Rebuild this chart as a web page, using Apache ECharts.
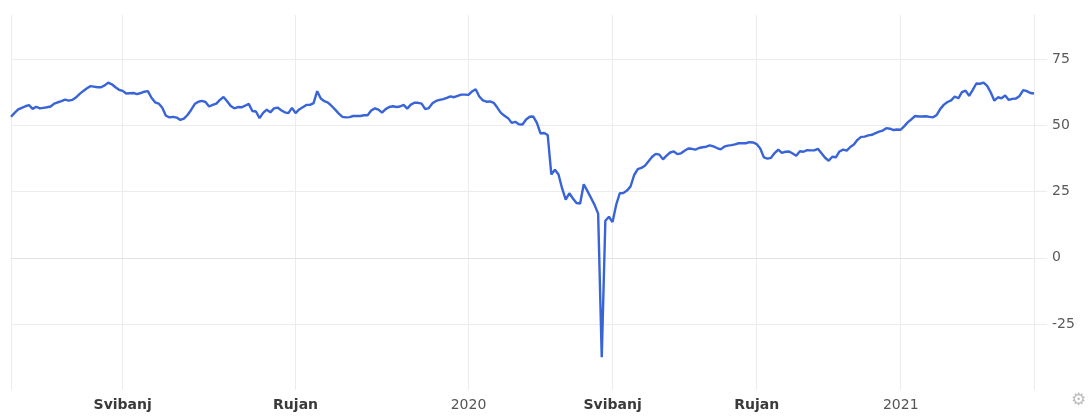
<!DOCTYPE html>
<html><head><meta charset="utf-8">
<script src="https://cdn.jsdelivr.net/npm/echarts@6/dist/echarts.min.js"></script>
<style>html,body{margin:0;padding:0;background:#fff}#c{width:1088px;height:417px}</style>
</head><body><div id="c"></div><script>
// Sampling of the date axis: [month, first day, last day, number of samples]
const sampleMonths = [
 ['2019-02',13,28,7],['2019-03',1,31,12],['2019-04',1,30,12],
 ['2019-05',1,31,12],['2019-06',1,30,12],['2019-07',1,31,12],['2019-08',1,31,12],
 ['2019-09',1,30,12],['2019-10',1,31,12],['2019-11',1,30,12],['2019-12',1,31,12],
 ['2020-01',1,31,10],['2020-02',1,29,10],['2020-03',1,31,10],['2020-04',1,30,10],
 ['2020-05',1,31,10],['2020-06',1,30,10],['2020-07',1,31,10],['2020-08',1,31,10],
 ['2020-09',1,30,10],['2020-10',1,31,10],['2020-11',1,30,10],['2020-12',1,31,10],
 ['2021-01',1,31,10],['2021-02',1,28,10],['2021-03',1,31,10],['2021-04',1,22,8]
];
const categories = [];
sampleMonths.forEach(([m, d0, d1, n]) => {
  for (let k = 0; k < n; k++) {
    const d = d0 + Math.floor(k * (d1 - d0 + 1) / n);
    categories.push(m + '-' + String(d).padStart(2, '0'));
  }
});

// Crude oil price
const prices = [
 53.3,54.8,56.1,56.7,57.3,57.7,56.3,57.1,56.5,56.7,
 56.9,57.2,58.3,58.8,59.2,59.8,59.4,59.7,60.6,61.9,
 63.0,64.0,64.9,64.7,64.5,64.5,65.2,66.2,65.6,64.5,
 63.5,63.1,62.1,62.2,62.3,61.9,62.3,62.8,63.0,60.5,
 58.8,58.3,56.7,53.7,53.1,53.3,53.0,52.1,52.6,54.0,
 55.9,58.1,59.0,59.3,58.9,57.2,57.8,58.3,59.7,60.8,
 59.2,57.4,56.5,57.0,56.9,57.5,58.2,55.5,55.3,52.8,
 54.8,56.0,55.0,56.5,56.8,55.8,55.0,54.7,56.7,54.7,
 56.1,56.9,57.8,57.8,58.5,63.0,60.2,59.2,58.7,57.4,
 56.0,54.5,53.3,53.1,53.2,53.6,53.6,53.6,53.9,53.9,
 55.7,56.5,56.0,54.9,56.2,57.0,57.3,57.0,57.2,57.8,
 56.4,57.9,58.6,58.6,58.3,56.2,56.6,58.4,59.3,59.7,
 60.0,60.5,61.0,60.7,61.2,61.7,61.7,61.6,62.9,63.7,
 61.0,59.5,59.0,59.1,58.6,56.8,54.8,53.7,52.8,51.0,
 51.4,50.5,50.4,52.3,53.3,53.4,51.0,47.0,47.2,46.4,
 31.5,33.3,31.5,26.2,22.0,24.4,22.4,20.7,20.5,27.8,
 25.3,22.7,20.0,16.7,-37.6,14.0,15.5,13.5,20.0,24.4,
 24.5,25.4,27.0,31.3,33.5,34.0,34.8,36.5,38.2,39.3,
 39.0,37.2,38.6,39.8,40.2,39.2,39.5,40.5,41.3,41.2,
 40.9,41.5,41.8,42.0,42.5,42.1,41.5,41.0,42.0,42.4,
 42.6,42.9,43.3,43.3,43.3,43.7,43.6,43.0,41.3,38.0,
 37.5,37.8,39.6,40.9,39.7,40.1,40.2,39.4,38.6,40.3,
 40.1,40.7,40.6,40.6,41.2,39.5,37.8,36.7,38.2,38.0,
 40.2,40.9,40.5,41.9,42.8,44.6,45.7,45.8,46.3,46.5,
 47.1,47.7,48.1,49.0,48.8,48.3,48.5,48.4,49.8,51.3,
 52.4,53.6,53.4,53.4,53.5,53.3,53.1,54.0,56.3,57.9,
 58.9,59.5,61.0,60.3,62.6,63.2,61.2,63.5,65.9,65.8,
 66.2,65.0,62.5,59.4,60.7,60.3,61.4,59.7,60.1,60.2,
 61.2,63.4,63.0,62.3,62.1
];

const tickDates = ['2019-05-01','2019-09-01','2020-01-01','2020-05-01','2020-09-01','2021-01-01'];
const tickLabels = ['Svibanj','Rujan','2020','Svibanj','Rujan','2021'];
const yTicks = [-25, 0, 25, 50, 75];

const grid = '#ececec';
const chart = echarts.init(document.getElementById('c'), null, {renderer: 'canvas'});
const isTick = (i, v) => tickDates.indexOf(v) >= 0;
chart.setOption({
  animation: false,
  backgroundColor: '#fff',
  grid: {left: 11, right: 54, top: 15, bottom: 27},
  xAxis: {
    type: 'category', data: categories, boundaryGap: false,
    axisLine: {show: true, lineStyle: {color: '#e2e2e2', width: 1}},
    axisTick: {show: false},
    axisLabel: {
      interval: isTick, margin: 8,
      formatter: (v) => {
        const t = tickLabels[tickDates.indexOf(v)];
        return /^\d+$/.test(t) ? '{y|' + t + '}' : '{m|' + t + '}';
      },
      rich: {
        m: {fontFamily: 'DejaVu Sans', fontSize: 14, fontWeight: 'bold', color: '#3a3a3a'},
        y: {fontFamily: 'DejaVu Sans', fontSize: 14, color: '#555'}
      }
    },
    splitLine: {show: true, interval: isTick, lineStyle: {color: grid}}
  },
  yAxis: [{
    type: 'value', position: 'right', min: -50, max: 91.8,
    axisLine: {show: true, lineStyle: {color: grid}},
    axisTick: {show: true, length: 13, customValues: yTicks, lineStyle: {color: grid}},
    axisLabel: {customValues: yTicks, margin: 18, color: '#5a5a5a', fontSize: 14, fontFamily: 'DejaVu Sans'},
    splitLine: {show: true, lineStyle: {color: grid}}
  }, {
    type: 'value', position: 'left', min: -50, max: 91.8,
    axisLine: {show: true, lineStyle: {color: grid}},
    axisTick: {show: false}, axisLabel: {show: false}, splitLine: {show: false}
  }],
  graphic: [{
    type: 'text', left: 1071, top: 392,
    style: {text: '\u2699', fontSize: 17, fill: '#bdbdbd', fontFamily: 'DejaVu Sans'}
  }],
  series: [{
    type: 'line', data: prices, yAxisIndex: 0,
    showSymbol: false, symbol: 'none',
    lineStyle: {color: '#3864d8', width: 2.4},
    itemStyle: {color: '#3864d8'}
  }]
});
</script></body></html>
